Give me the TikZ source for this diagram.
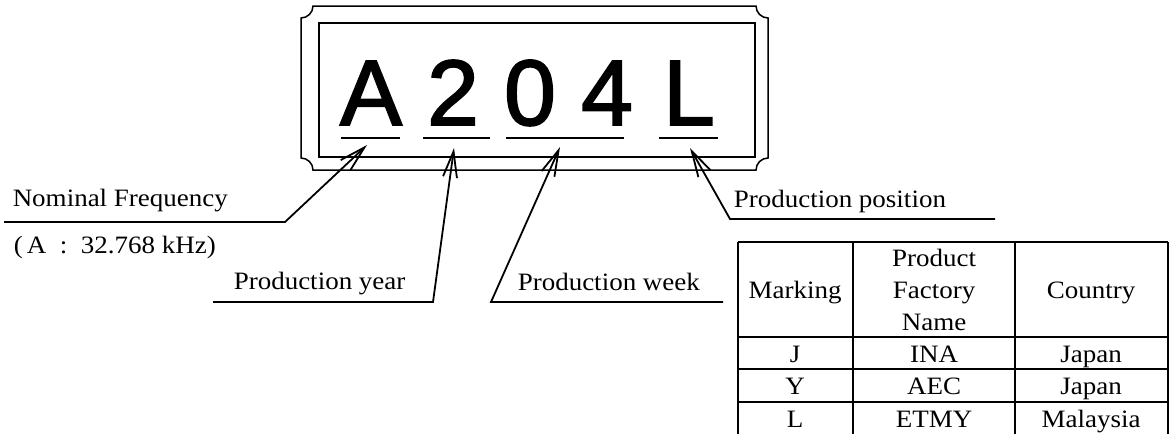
\documentclass[tikz,border=0pt]{standalone}
\usepackage{fontspec}
\setmainfont[FakeStretch=1.08]{Liberation Serif}
\newfontfamily\markfont[FakeBold=2]{Liberation Sans}
\usetikzlibrary{arrows.meta}

\begin{document}
\begin{tikzpicture}[x=1pt, y=-1pt, line width=1.5pt,
    every node/.style={font=\fontsize{25}{32}\selectfont, inner sep=0pt},
    markchar/.style={font=\markfont\fontsize{93}{93}\selectfont, anchor=base},
    lbl/.style={anchor=base west},
    pointer/.style={line width=1.8pt, -{Straight Barb[length=26pt,width=14pt]}}]
    \useasboundingbox (0,0) rectangle (1169,434);

    % marking plate
    \draw (313,6) -- (756,6) .. controls (756,12.6) and (761.4,18) .. (768,18)
        -- (768,158) .. controls (761.4,158) and (756,163.4) .. (756,170)
        -- (313,170) .. controls (313,163.4) and (307.6,158) .. (301,158)
        -- (301,18) .. controls (307.6,18) and (313,12.6) .. (313,6) -- cycle;
    \draw (319,23) rectangle (755,157);

    \node[markchar] (mA) at (371,125) {A};
    \node[markchar] (m2) at (453,125) {2};
    \node[markchar] (m0) at (530,125) {0};
    \node[markchar] (m4) at (607,125) {4};
    \node[markchar] (mL) at (689,125) {L};

    \draw[line width=1.8pt] (341,138) -- (400,138);
    \draw[line width=1.8pt] (423,138) -- (490,138);
    \draw[line width=1.8pt] (506,138) -- (624,138);
    \draw[line width=1.8pt] (659,138) -- (718,138);

    \coordinate (tipA) at (367,145);
    \coordinate (tipY) at (454,148);
    \coordinate (tipW) at (560,147);
    \coordinate (tipL) at (690,148);

    % callouts
    \node[lbl] (freq) at (12,206) {Nominal Frequency};
    \node[lbl] (freqval) at (13,253) {(\,A\ \ :\ \ 32.768 kHz)};
    \node[lbl] (year) at (233,289) {Production year};
    \node[lbl] (week) at (517,290) {Production week};
    \node[lbl] (pos) at (733,207) {Production position};

    \coordinate (freqL) at (4,222);
    \coordinate (freqR) at (285,222);
    \coordinate (yearL) at (213,302);
    \coordinate (yearR) at (433,302);
    \coordinate (weekL) at (491,302);
    \coordinate (weekR) at (723,302);
    \coordinate (posL) at (730,219);
    \coordinate (posR) at (995,219);

    \draw[pointer] (freqL) -- (freqR) -- (tipA);
    \draw[pointer] (yearL) -- (yearR) -- (tipY);
    \draw[pointer] (weekR) -- (weekL) -- (tipW);
    \draw[pointer] (posR) -- (posL) -- (tipL);

    % factory table
    \begin{scope}[line width=1.2pt]
        \foreach \y in {242,337,369,402}
            \draw (738,\y) -- (1168,\y);
        \foreach \x in {738,853,1015,1168}
            \draw (\x,242) -- (\x,434);
    \end{scope}

    \node[anchor=base] (hmark) at (795,298) {Marking};
    \node[align=center] (hname) at (934,290) {Product\\Factory\\Name};
    \node[anchor=base] (hcountry) at (1091,298) {Country};

    \foreach \y/\m/\f/\c [count=\i] in {362/J/INA/Japan, 394/Y/AEC/Japan, 427/L/ETMY/Malaysia} {
        \node[anchor=base] (mk\i) at (795,\y) {\m};
        \node[anchor=base] (fac\i) at (934,\y) {\f};
        \node[anchor=base] (cty\i) at (1091,\y) {\c};
    }
\end{tikzpicture}
\end{document}
